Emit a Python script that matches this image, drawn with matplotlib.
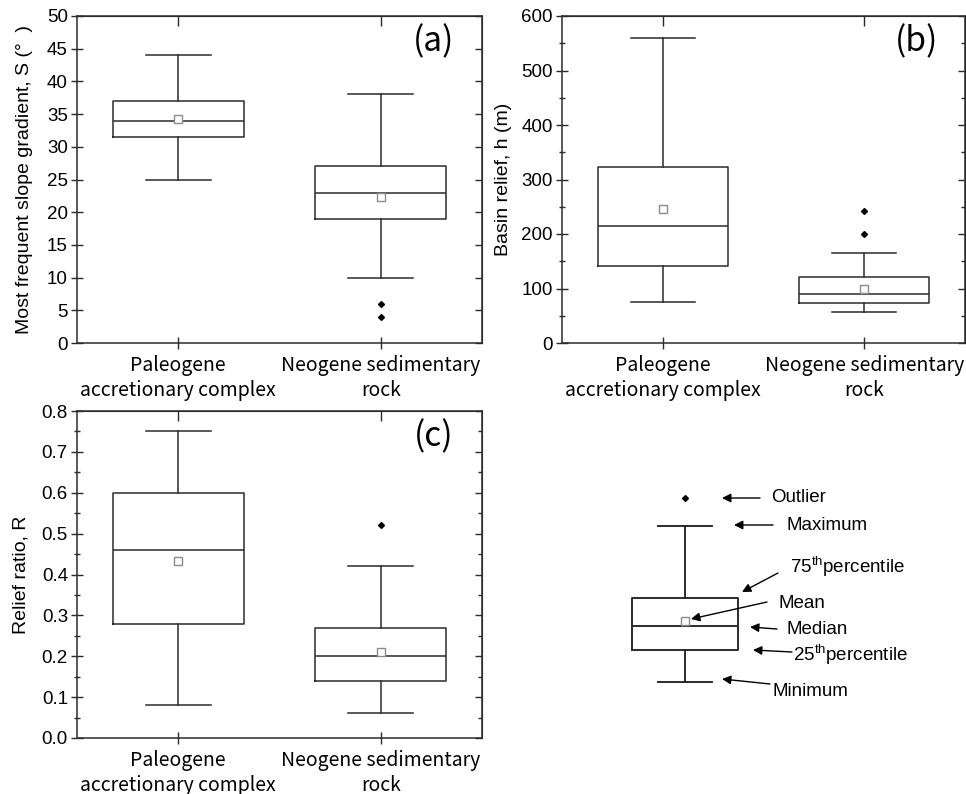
import matplotlib
matplotlib.use("Agg")
import matplotlib.pyplot as plt
from matplotlib.ticker import MultipleLocator, FormatStrFormatter, NullFormatter

plt.rcParams['font.family'] = ['Liberation Sans', 'DejaVu Sans']
plt.rcParams['mathtext.fontset'] = 'custom'
plt.rcParams['mathtext.rm'] = 'Liberation Sans'

INK = "#2b2b2b"
CJK = ['Noto Sans CJK JP', 'DejaVu Sans']

groups = ["Paleogene\naccretionary complex", "Neogene sedimentary\nrock"]

# (a) most frequent slope gradient (deg)
slope_min = [25, 10]
slope_q1 = [31.5, 19]
slope_med = [34, 23]
slope_q3 = [37, 27]
slope_max = [44, 38]
slope_mean = [34.2, 22.3]
slope_out = [[], [6, 4]]

# (b) basin relief (m)
relief_min = [75, 57]
relief_q1 = [141, 73]
relief_med = [214, 90]
relief_q3 = [323, 121]
relief_max = [560, 166]
relief_mean = [246, 100]
relief_out = [[], [200, 242]]

# (c) relief ratio
ratio_min = [0.08, 0.06]
ratio_q1 = [0.28, 0.14]
ratio_med = [0.46, 0.20]
ratio_q3 = [0.60, 0.27]
ratio_max = [0.75, 0.42]
ratio_mean = [0.432, 0.21]
ratio_out = [[], [0.52]]

# schematic key (arbitrary units)
key_min, key_q1, key_med, key_q3, key_max = 28, 60, 84, 112, 184
key_mean = 89
key_out = [212]


def make_stats(lo, q1, med, q3, hi, mean, out):
    stats = []
    for i in range(len(lo)):
        stats.append(dict(whislo=lo[i], q1=q1[i], med=med[i], q3=q3[i],
                          whishi=hi[i], mean=mean[i], fliers=out[i]))
    return stats


line = dict(color=INK, lw=1.1)
meanprops = dict(marker='s', markersize=5.5, markerfacecolor='white',
                 markeredgecolor='#8c8c8c', markeredgewidth=1.0)
flierprops = dict(marker='D', markersize=3, markerfacecolor='black',
                  markeredgecolor='black', linestyle='none')


def draw_box(ax, stats, positions, widths, capwidths, lw=1.1):
    lp = dict(color=INK, lw=lw)
    ax.bxp(stats, positions=positions, widths=widths, capwidths=capwidths,
           showmeans=True, boxprops=lp, medianprops=lp,
           whiskerprops=lp, capprops=lp, meanprops=meanprops,
           flierprops=flierprops, manage_ticks=False)


fig = plt.figure(figsize=(9.66, 7.94), dpi=100)
W, H = 966.0, 794.0


def panel(px, stats, ylim, major, minor, fmt, ylabel, labx, tag):
    left, top, right, bottom = px
    ax = fig.add_axes([left / W, 1 - bottom / H, (right - left) / W, (bottom - top) / H])
    draw_box(ax, stats, [1, 2], 0.645, 0.32)
    ax.set_xlim(0.5, 2.5)
    ax.set_ylim(*ylim)
    ax.set_xticks([1, 2])
    ax.set_xticklabels(groups, family=CJK, fontsize=14, linespacing=1.25)
    ax.yaxis.set_major_locator(MultipleLocator(major))
    ax.yaxis.set_major_formatter(FormatStrFormatter(fmt))
    if minor:
        ax.yaxis.set_minor_locator(MultipleLocator(minor))
    ax.tick_params(axis='x', direction='inout', length=9, width=1.0, color=INK, pad=4)
    ax.tick_params(axis='y', which='major', direction='inout', length=9, width=1.0,
                   color=INK, labelsize=13.5, pad=2)
    ax.tick_params(axis='y', which='minor', direction='inout', length=5, width=1.0, color=INK)
    for s in ax.spines.values():
        s.set_color(INK)
        s.set_linewidth(1.1)
    ax.set_ylabel(ylabel, fontsize=14)
    ax.yaxis.set_label_coords(labx, 0.5)

    sx = ax.secondary_xaxis('top')
    sx.set_xticks([1, 2])
    sx.xaxis.set_major_formatter(NullFormatter())
    sx.tick_params(direction='in', length=7, width=1.0, color=INK)
    sx.spines['top'].set_color(INK)
    sy = ax.secondary_yaxis('right')
    sy.yaxis.set_major_locator(MultipleLocator(major))
    sy.yaxis.set_major_formatter(NullFormatter())
    if minor:
        sy.yaxis.set_minor_locator(MultipleLocator(minor))
        sy.yaxis.set_minor_formatter(NullFormatter())
    sy.tick_params(which='major', direction='in', length=5, width=1.0, color=INK)
    sy.tick_params(which='minor', direction='in', length=3, width=1.0, color=INK)
    sy.spines['right'].set_color(INK)

    ax.text(0.88, 0.922, tag, transform=ax.transAxes, ha='center', va='center',
            fontsize=24, family=CJK)
    return ax


panel((77, 16, 482, 343),
      make_stats(slope_min, slope_q1, slope_med, slope_q3, slope_max, slope_mean, slope_out),
      (0, 50), 5, None, '%d', 'Most frequent slope gradient, S (°  )', -0.108, '(a)')
panel((562, 16, 965, 343),
      make_stats(relief_min, relief_q1, relief_med, relief_q3, relief_max, relief_mean, relief_out),
      (0, 600), 100, 50, '%d', 'Basin relief, h (m)', -0.124, '(b)')
panel((77, 411, 482, 738),
      make_stats(ratio_min, ratio_q1, ratio_med, ratio_q3, ratio_max, ratio_mean, ratio_out),
      (0, 0.8), 0.1, 0.05, '%.1f', 'Relief ratio, R', -0.118, '(c)')

# schematic key
kx = fig.add_axes([600 / W, (794 - 710) / H, 366 / W, 240 / H])
kx.set_xlim(0, 366)
kx.set_ylim(0, 240)
kx.axis('off')
key_stats = [dict(whislo=key_min, q1=key_q1, med=key_med, q3=key_q3,
                  whishi=key_max, mean=key_mean, fliers=key_out)]
draw_box(kx, key_stats, [85], 106, 54, lw=1.4)

notes = [
    ("Outlier", (160, 212), (122, 212), (171, 212)),
    ("Maximum", (173, 185), (134, 185), (187, 185)),
    ("75$^{\\rm th}$percentile", (178, 137), (142, 118), (190, 143)),
    ("Mean", (167, 108), (91, 91), (179, 106)),
    ("Median", (177, 81), (150, 83), (187, 80)),
    ("25$^{\\rm th}$percentile", (192, 58), (153, 60), (193, 55)),
    ("Minimum", (170, 26), (122, 31), (172, 19)),
]
for label, tail, head, pos in notes:
    kx.annotate('', xy=head, xytext=tail,
                arrowprops=dict(arrowstyle='-|>', color='black', lw=1.0,
                                mutation_scale=13, shrinkA=0, shrinkB=0))
    kx.text(pos[0], pos[1], label, ha='left', va='center', fontsize=13.5)

fig.savefig("out.png", dpi=100)
